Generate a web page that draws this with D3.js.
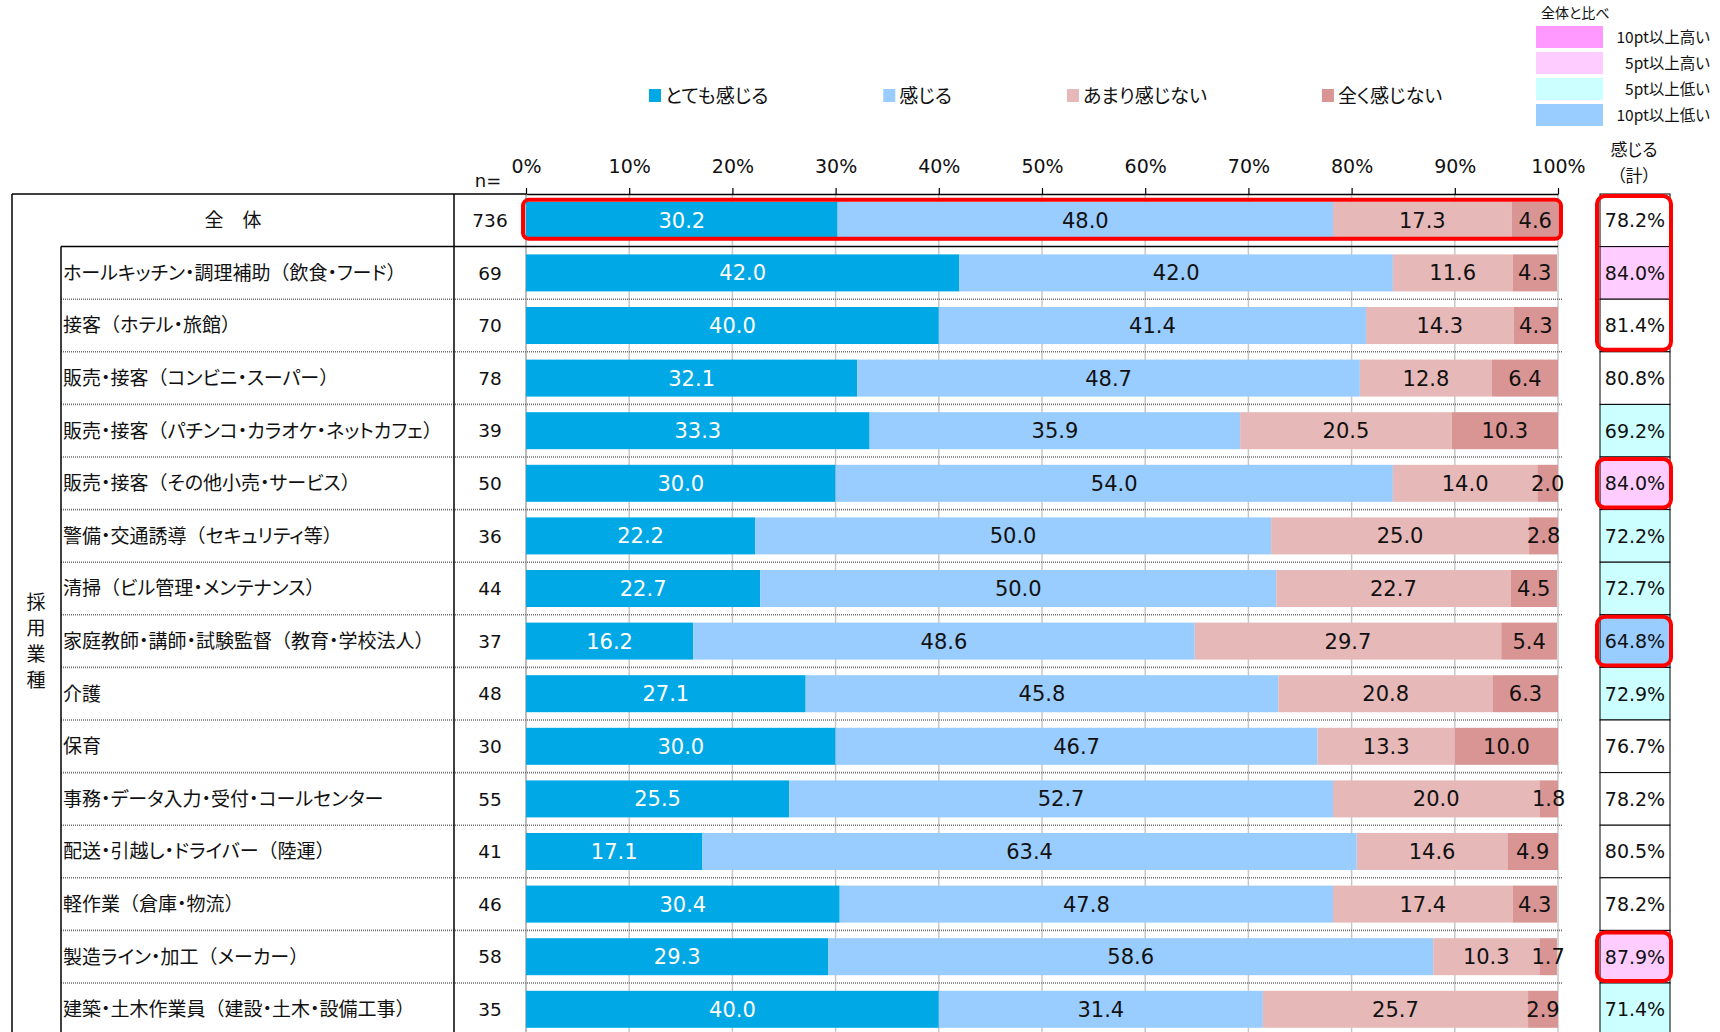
<!DOCTYPE html>
<html>
<head>
<meta charset="utf-8">
<script src="https://cdn.jsdelivr.net/npm/d3@7"></script>
<style>
  body { margin: 0; background: #fff; }
  svg { display: block; }
  .jp { font-family: "Noto Sans CJK JP", sans-serif; font-feature-settings: "palt"; }
  .full { font-feature-settings: normal; }
  .num { font-family: "DejaVu Sans", Verdana, sans-serif; }
</style>
</head>
<body>
<svg id="chart" width="1720" height="1032"></svg>
<script>
// chart data
const categories = [
  "全　体",
  "ホールキッチン・調理補助（飲食・フード）",
  "接客（ホテル・旅館）",
  "販売・接客（コンビニ・スーパー）",
  "販売・接客（パチンコ・カラオケ・ネットカフェ）",
  "販売・接客（その他小売・サービス）",
  "警備・交通誘導（セキュリティ等）",
  "清掃（ビル管理・メンテナンス）",
  "家庭教師・講師・試験監督（教育・学校法人）",
  "介護",
  "保育",
  "事務・データ入力・受付・コールセンター",
  "配送・引越し・ドライバー（陸運）",
  "軽作業（倉庫・物流）",
  "製造ライン・加工（メーカー）",
  "建築・土木作業員（建設・土木・設備工事）"
]
const nValues = [736, 69, 70, 78, 39, 50, 36, 44, 37, 48, 30, 55, 41, 46, 58, 35]

const veryFeel = [30.2, 42.0, 40.0, 32.1, 33.3, 30.0, 22.2, 22.7, 16.2, 27.1, 30.0, 25.5, 17.1, 30.4, 29.3, 40.0]
const feel     = [48.0, 42.0, 41.4, 48.7, 35.9, 54.0, 50.0, 50.0, 48.6, 45.8, 46.7, 52.7, 63.4, 47.8, 58.6, 31.4]
const notMuch  = [17.3, 11.6, 14.3, 12.8, 20.5, 14.0, 25.0, 22.7, 29.7, 20.8, 13.3, 20.0, 14.6, 17.4, 10.3, 25.7]
const notAtAll = [4.6, 4.3, 4.3, 6.4, 10.3, 2.0, 2.8, 4.5, 5.4, 6.3, 10.0, 1.8, 4.9, 4.3, 1.7, 2.9]

const totalFeel = [78.2, 84.0, 81.4, 80.8, 69.2, 84.0, 72.2, 72.7, 64.8, 72.9, 76.7, 78.2, 80.5, 78.2, 87.9, 71.4]

const seriesNames = ["とても感じる", "感じる", "あまり感じない", "全く感じない"]
const seriesColors = ["#00a9e6", "#99ccff", "#e6b8b8", "#d99594"]

const compareNames = ["10pt以上高い", "5pt以上高い", "5pt以上低い", "10pt以上低い"]
const compareColors = ["#ff99ff", "#ffccff", "#ccffff", "#99ccff"]

// rows framed in red (first row, last row)
const redRows = [[0, 2], [5, 5], [8, 8], [14, 14]]

const tickValues = [0, 10, 20, 30, 40, 50, 60, 70, 80, 90, 100]

// layout
const tableTop = 194
const rowH = 52.6
const barH = 37
const svg = d3.select('#chart')

const x = d3.scaleLinear().domain([0, 100]).range([526, 1558])
const y = d3.scaleBand()
  .domain(d3.range(categories.length))
  .range([tableTop, tableTop + rowH * categories.length])

const rows = categories.map((c, i) => ({
  i: i, name: c, n: nValues[i],
  v0: veryFeel[i], v1: feel[i], v2: notMuch[i], v3: notAtAll[i],
  total: totalFeel[i]
}))
const stacked = d3.stack().keys(["v0", "v1", "v2", "v3"])(rows)

// comparison with the overall row
function compareColor(v) {
  const diff = v - totalFeel[0]
  if (diff >= 10) return compareColors[0]
  if (diff >= 5) return compareColors[1]
  if (diff <= -10) return compareColors[3]
  if (diff <= -5) return compareColors[2]
  return "#fff"
}

// grid lines
svg.append('g').selectAll('line')
  .data(tickValues)
  .join('line')
  .attr('x1', d => x(d)).attr('x2', d => x(d))
  .attr('y1', tableTop).attr('y2', 1032)
  .attr('stroke', d => d === 0 ? '#a6a6a6' : '#c8c8c8')
  .attr('stroke-width', 1.5)

// row separator lines (dotted)
svg.append('g').selectAll('line')
  .data(d3.range(2, categories.length))
  .join('line')
  .attr('x1', 61).attr('x2', 1562)
  .attr('y1', d => y(d)).attr('y2', d => y(d))
  .attr('stroke', '#6e6e6e')
  .attr('stroke-width', 1.6)
  .attr('stroke-dasharray', '1,1')

// bars
const barG = svg.append('g')
stacked.forEach((s, k) => {
  barG.append('g').selectAll('rect')
    .data(s)
    .join('rect')
    .attr('x', d => x(d[0]))
    .attr('width', d => x(d[1]) - x(d[0]))
    .attr('y', (d, i) => y(i) + (rowH - barH) / 2)
    .attr('height', barH)
    .attr('fill', seriesColors[k])

  barG.append('g').selectAll('text')
    .data(s)
    .join('text')
    .attr('class', 'num')
    .attr('x', d => x((d[0] + d[1]) / 2))
    .attr('y', (d, i) => y(i) + rowH / 2)
    .attr('dy', '0.36em')
    .attr('text-anchor', 'middle')
    .attr('font-size', 21)
    .attr('fill', k === 0 ? '#fff' : '#111')
    .text(d => (d[1] - d[0]).toFixed(1))
})

// top axis
const axis = svg.append('g')
  .attr('transform', `translate(0,${tableTop})`)
  .call(d3.axisTop(x).tickValues(tickValues).tickFormat(d => d + '%').tickSize(6).tickSizeOuter(0))
axis.select('.domain').attr('stroke', '#000').attr('stroke-width', 1.5)
axis.selectAll('.tick line').attr('stroke', '#000').attr('stroke-width', 1.2)
axis.selectAll('.tick text')
  .attr('class', 'num')
  .attr('font-size', 19)
  .attr('fill', '#111')
  .attr('y', -28)
  .attr('dy', '0.36em')

// table lines
const tbl = svg.append('g').attr('stroke', '#000').attr('stroke-width', 1.5)
tbl.append('line').attr('x1', 12).attr('x2', 526).attr('y1', tableTop).attr('y2', tableTop)
tbl.append('line').attr('x1', 61).attr('x2', 1558).attr('y1', y(1)).attr('y2', y(1))
tbl.append('line').attr('x1', 12).attr('x2', 12).attr('y1', tableTop).attr('y2', 1032)
tbl.append('line').attr('x1', 61).attr('x2', 61).attr('y1', y(1)).attr('y2', 1032)
tbl.append('line').attr('x1', 454).attr('x2', 454).attr('y1', tableTop).attr('y2', 1032)

// category labels: full-width brackets, proportional kana
const catText = svg.append('g').selectAll('text')
  .data(rows)
  .join('text')
  .attr('class', 'jp')
  .attr('x', d => d.i === 0 ? 233 : 63)
  .attr('y', d => y(d.i) + rowH / 2)
  .attr('dy', '0.36em')
  .attr('text-anchor', d => d.i === 0 ? 'middle' : 'start')
  .attr('font-size', 19)
  .attr('fill', '#111')
catText.selectAll('tspan')
  .data(d => d.name.split(/([（）])/).filter(s => s.length))
  .join('tspan')
  .attr('class', s => /[（）]/.test(s) ? 'full' : null)
  .text(s => s)

// group label (vertical)
svg.append('g').selectAll('text')
  .data("採用業種".split(''))
  .join('text')
  .attr('class', 'jp')
  .attr('x', 36)
  .attr('y', (d, i) => 602 + i * 26)
  .attr('dy', '0.36em')
  .attr('text-anchor', 'middle')
  .attr('font-size', 19)
  .attr('fill', '#111')
  .text(d => d)

// n column
svg.append('text').attr('class', 'num')
  .attr('x', 488).attr('y', 181).attr('dy', '0.36em')
  .attr('text-anchor', 'middle').attr('font-size', 18).attr('fill', '#111')
  .text('n=')
svg.append('g').selectAll('text')
  .data(rows)
  .join('text')
  .attr('class', 'num')
  .attr('x', 490)
  .attr('y', d => y(d.i) + rowH / 2)
  .attr('dy', '0.36em')
  .attr('text-anchor', 'middle')
  .attr('font-size', 18.5)
  .attr('fill', '#111')
  .text(d => d.n)

// red frame round the overall bar
svg.append('rect')
  .attr('x', x(0) - 3)
  .attr('y', y(0) + (rowH - barH) / 2 - 2)
  .attr('width', x(100) - x(0) + 6)
  .attr('height', barH + 2)
  .attr('rx', 6)
  .attr('fill', 'none')
  .attr('stroke', '#ff0000')
  .attr('stroke-width', 4)

// total column
svg.append('text').attr('class', 'jp')
  .attr('x', 1634).attr('y', 150).attr('dy', '0.36em')
  .attr('text-anchor', 'middle').attr('font-size', 17).attr('fill', '#111')
  .text('感じる')
svg.append('text').attr('class', 'jp')
  .attr('x', 1634).attr('y', 176).attr('dy', '0.36em')
  .attr('text-anchor', 'middle').attr('font-size', 17).attr('fill', '#111')
  .text('（計）')

const totG = svg.append('g')
totG.selectAll('rect')
  .data(rows)
  .join('rect')
  .attr('x', 1600)
  .attr('width', 70)
  .attr('y', d => y(d.i))
  .attr('height', rowH)
  .attr('fill', d => d.i === 0 ? '#fff' : compareColor(d.total))
  .attr('stroke', '#000')
  .attr('stroke-width', 1)
totG.selectAll('text')
  .data(rows)
  .join('text')
  .attr('class', 'num')
  .attr('x', 1635)
  .attr('y', d => y(d.i) + rowH / 2)
  .attr('dy', '0.36em')
  .attr('text-anchor', 'middle')
  .attr('font-size', 19)
  .attr('fill', '#111')
  .text(d => d.total.toFixed(1) + '%')

svg.append('g').selectAll('rect')
  .data(redRows)
  .join('rect')
  .attr('x', 1597)
  .attr('y', d => y(d[0]) + 2)
  .attr('width', 74)
  .attr('height', d => (d[1] - d[0] + 1) * rowH - 4)
  .attr('rx', 8)
  .attr('fill', 'none')
  .attr('stroke', '#ff0000')
  .attr('stroke-width', 4)

// series legend
let lx = 649
seriesNames.forEach((name, k) => {
  svg.append('rect')
    .attr('x', lx).attr('y', 89).attr('width', 12).attr('height', 13)
    .attr('fill', seriesColors[k])
  const t = svg.append('text').attr('class', 'jp')
    .attr('x', lx + 16).attr('y', 96).attr('dy', '0.36em')
    .attr('font-size', 19).attr('fill', '#111')
    .text(name)
  lx += 16 + t.node().getComputedTextLength() + 115
})

// comparison legend
svg.append('text').attr('class', 'jp')
  .attr('x', 1541).attr('y', 13).attr('dy', '0.36em')
  .attr('font-size', 14).attr('fill', '#111')
  .text('全体と比べ')
const cmp = svg.append('g')
cmp.selectAll('rect')
  .data(compareColors)
  .join('rect')
  .attr('x', 1536)
  .attr('y', (d, i) => 26 + i * 26)
  .attr('width', 67)
  .attr('height', 22)
  .attr('fill', d => d)
cmp.selectAll('text')
  .data(compareNames)
  .join('text')
  .attr('class', 'jp')
  .attr('x', 1710)
  .attr('y', (d, i) => 37 + i * 26)
  .attr('dy', '0.36em')
  .attr('text-anchor', 'end')
  .attr('font-size', 15.5)
  .attr('fill', '#111')
  .text(d => d)
</script>
</body>
</html>
